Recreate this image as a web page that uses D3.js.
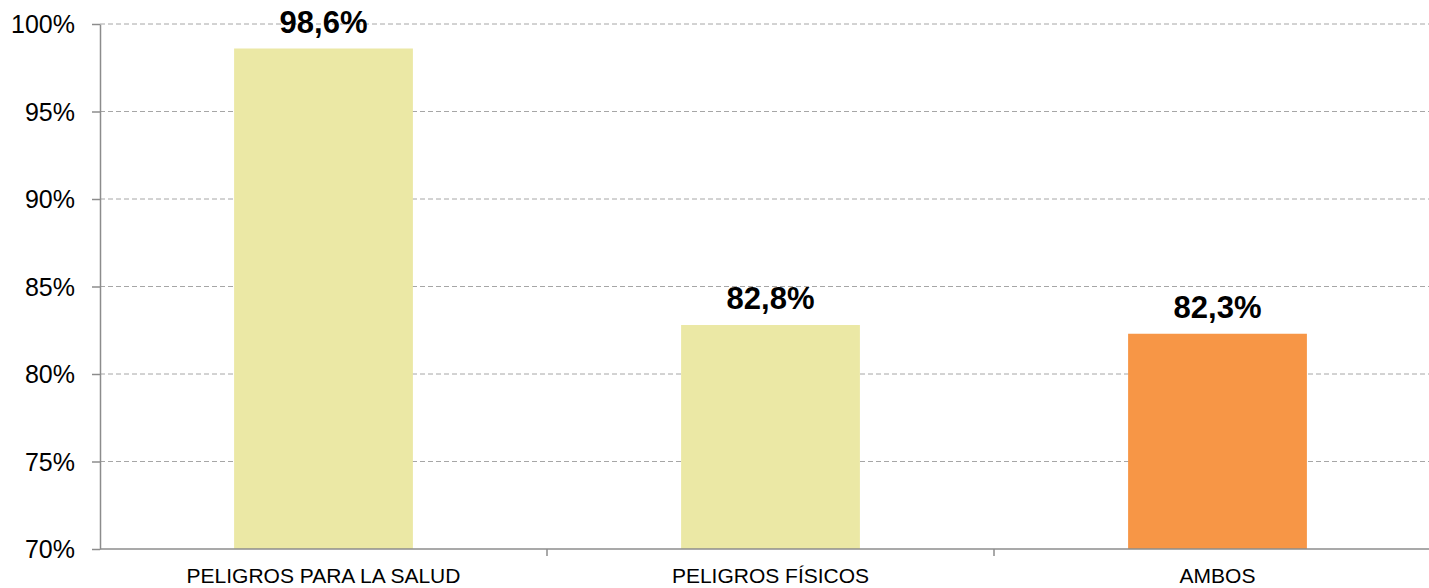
<!DOCTYPE html>
<html>
<head>
<meta charset="utf-8">
<script src="https://cdn.jsdelivr.net/npm/d3@7"></script>
<style>
  html, body { margin: 0; padding: 0; background: #fff; }
  svg { display: block; font-family: "Liberation Sans", Arial, sans-serif; }
  .grid line { stroke: #a6a6a6; stroke-dasharray: 5 3; }
  .axis path, .axis line { stroke: #8c8c8c; stroke-width: 1.5; }
  .axis text { fill: #000; }
  .bar-value { font-weight: bold; font-size: 31px; fill: #000; }
</style>
</head>
<body>
<svg id="chart" width="1429" height="588"></svg>
<script>
const categories = ["PELIGROS PARA LA SALUD", "PELIGROS FÍSICOS", "AMBOS"];
const values = [98.6, 82.8, 82.3];
const barColors = ["#ebe8a5", "#ebe8a5", "#f79646"];
const yTicks = [70, 75, 80, 85, 90, 95, 100];

const DIMS = { LEFT: 100, TOP: 24, BOTTOM: 549, RIGHT: 1441 };

const svg = d3.select("#chart");

const x = d3.scaleBand()
  .domain(categories)
  .range([DIMS.LEFT, DIMS.RIGHT])
  .paddingInner(0.6)
  .paddingOuter(0.3);

const y = d3.scaleLinear()
  .domain([70, 100])
  .range([DIMS.BOTTOM, DIMS.TOP]);

const fmt = (v) => v.toFixed(1).replace(".", ",") + "%";

// gridlines
svg.append("g")
  .attr("class", "grid")
  .selectAll("line")
  .data(yTicks.filter((t) => t > 70))
  .join("line")
  .attr("x1", DIMS.LEFT)
  .attr("x2", DIMS.RIGHT)
  .attr("y1", (d) => y(d))
  .attr("y2", (d) => y(d));

// bars
svg.append("g")
  .selectAll("rect")
  .data(values)
  .join("rect")
  .attr("x", (d, i) => x(categories[i]))
  .attr("width", x.bandwidth())
  .attr("y", (d) => y(d))
  .attr("height", (d) => y(70) - y(d))
  .attr("fill", (d, i) => barColors[i]);

// value labels
svg.append("g")
  .selectAll("text")
  .data(values)
  .join("text")
  .attr("class", "bar-value")
  .attr("text-anchor", "middle")
  .attr("x", (d, i) => x(categories[i]) + x.bandwidth() / 2)
  .attr("y", (d) => y(d) - 16)
  .text(fmt);

// y axis
const yAxis = svg.append("g")
  .attr("class", "axis")
  .attr("transform", `translate(${DIMS.LEFT},0)`)
  .call(d3.axisLeft(y).tickValues(yTicks).tickSize(8).tickSizeOuter(0).tickPadding(17)
    .tickFormat((d) => d + "%"));
yAxis.selectAll("text").attr("font-size", 25).attr("dy", "0.35em");

// x axis: ticks at category boundaries
const step = x.step();
const boundaries = categories.map((c, i) => DIMS.LEFT + step * i).slice(1);
const xAxis = svg.append("g")
  .attr("class", "axis")
  .attr("transform", `translate(0,${DIMS.BOTTOM})`);
xAxis.append("path").attr("d", `M${DIMS.LEFT},0H${DIMS.RIGHT}`);
xAxis.selectAll(".tick")
  .data(boundaries)
  .join("line")
  .attr("x1", (d) => d)
  .attr("x2", (d) => d)
  .attr("y1", 0)
  .attr("y2", 7);
xAxis.selectAll(".cat")
  .data(categories)
  .join("text")
  .attr("class", "cat")
  .attr("text-anchor", "middle")
  .attr("font-size", 21)
  .attr("x", (d) => x(d) + x.bandwidth() / 2)
  .attr("y", 34)
  .text((d) => d);
</script>
</body>
</html>
